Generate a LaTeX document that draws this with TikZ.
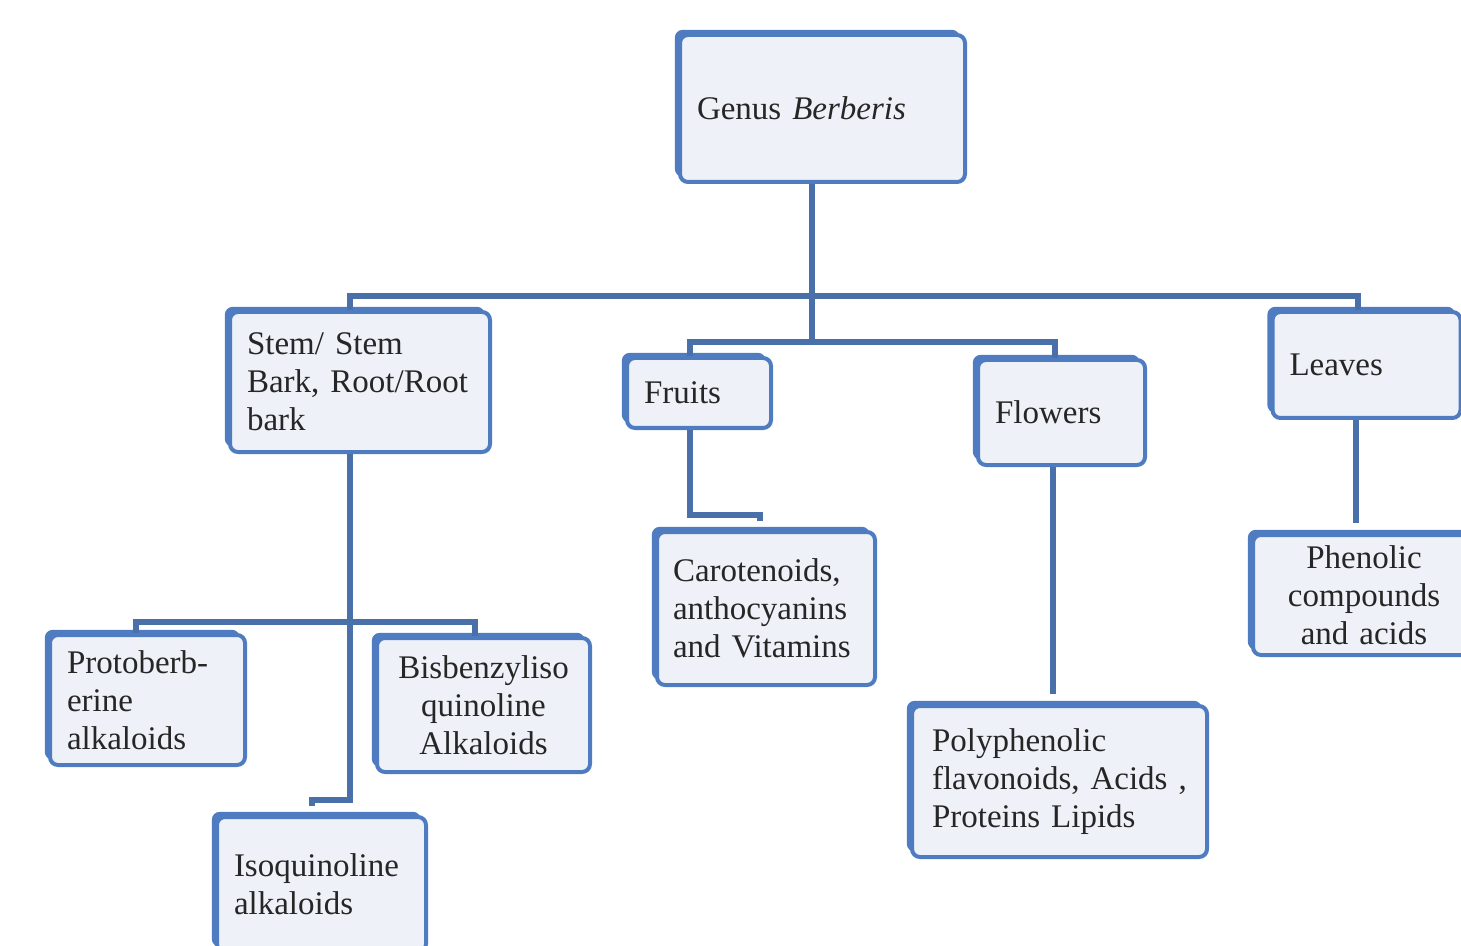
\documentclass[tikz,border=0pt]{standalone}
\usepackage{fontspec}
\setmainfont{Liberation Serif}
\usetikzlibrary{shadows}
\definecolor{boxblue}{HTML}{4F7CC0}
\definecolor{boxfill}{HTML}{EEF1F7}
\definecolor{linkblue}{HTML}{4A70AA}
\definecolor{txt}{HTML}{262626}
\tikzset{
  box/.style={draw=boxblue, line width=2pt, fill=boxfill, rounded corners=4pt,
    general shadow={fill=boxblue, shadow xshift=-2.6pt, shadow yshift=2.6pt},
    text=txt, font=\fontsize{16.5}{19}\selectfont, inner xsep=8.5pt, inner ysep=0pt},
  link/.style={draw=linkblue, line width=2.6pt}
}
\begin{document}
\begin{tikzpicture}[x=0.5pt,y=-0.5pt]
\useasboundingbox (0,0) rectangle (1461,946);
% boxes
\node[box, minimum width=142.5pt, minimum height=73.5pt, text width=125.5pt, align=left] (genus) at (822.5,108.5) {Genus \textit{Berberis}};
\node[box, minimum width=130pt, minimum height=70pt, text width=113pt, align=left] (stem) at (360,382) {\mbox{Stem/ Stem}\\\mbox{Bark, Root/Root}\\bark};
\node[box, minimum width=71pt, minimum height=35pt, text width=55pt, align=left] (fruits) at (699,393) {Fruits};
\node[box, minimum width=83.5pt, minimum height=52.5pt, text width=66.5pt, align=left] (flowers) at (1061.5,412.5) {Flowers};
\node[box, minimum width=93.5pt, minimum height=53pt, text width=77pt, align=left] (leaves) at (1366.5,365) {Leaves};
\node[box, minimum width=97.5pt, minimum height=65pt, text width=80.5pt, align=left] (proto) at (147.5,700) {\mbox{Protoberb-}\\erine\\alkaloids};
\node[box, minimum width=106.5pt, minimum height=67pt, text width=100pt, align=center, inner xsep=3pt] (bisb) at (483.5,705) {\mbox{Bisbenzyliso}\\quinoline\\Alkaloids};
\node[box, minimum width=103.5pt, minimum height=67.5pt, text width=87.5pt, align=left] (iso) at (321.5,884.5) {\mbox{Isoquinoline}\\alkaloids};
\node[box, minimum width=109pt, minimum height=76.5pt, text width=93pt, align=left, inner xsep=8pt] (carot) at (766,608.5) {\mbox{Carotenoids,}\\\mbox{anthocyanins}\\\mbox{and Vitamins}};
\node[box, minimum width=147.5pt, minimum height=75.5pt, text width=127.5pt, align=left, inner xsep=10pt] (poly) at (1059.5,781.5) {Polyphenolic\\\mbox{flavonoids, Acids ,}\\\mbox{Proteins Lipids}};
\node[box, minimum width=111pt, minimum height=60pt, text width=105pt, align=center, inner xsep=3pt] (phen) at (1364,595) {Phenolic\\compounds\\\mbox{and acids}};
% junction coordinates
\coordinate (j1) at (812,296);
\coordinate (j2) at (812,342);
\coordinate (bL) at (350,296);
\coordinate (bR) at (1358,296);
\coordinate (fL) at (690,342);
\coordinate (fR) at (1055,342);
\coordinate (s1) at (350,622);
\coordinate (sL) at (136,622);
\coordinate (sR) at (475,622);
\coordinate (s2) at (350,800);
\coordinate (s3) at (312,800);
\coordinate (c1) at (690,515);
\coordinate (c2) at (760,515);
\coordinate (c3) at (760,521);
\coordinate (i1) at (312,806);
% connectors
\draw[link] (genus.south -| j1) -- (j2);
\draw[link] (stem.north -| bL) -- (bL) -- (bR) -- (leaves.north -| bR);
\draw[link] (fruits.north -| fL) -- (fL) -- (fR) -- (flowers.north -| fR);
\draw[link] (stem.south -| s1) -- (s2) -- (s3) -- (i1);
\draw[link] (proto.north -| sL) -- (sL) -- (sR) -- (bisb.north -| sR);
\draw[link] (fruits.south -| c1) -- (c1) -- (c2) -- (c3);
\draw[link] (flowers.south -| 1053,0) -- ([yshift=5pt]poly.north -| 1053,0);
\draw[link] (leaves.south -| 1356,0) -- ([yshift=5pt]phen.north -| 1356,0);
\end{tikzpicture}
\end{document}
